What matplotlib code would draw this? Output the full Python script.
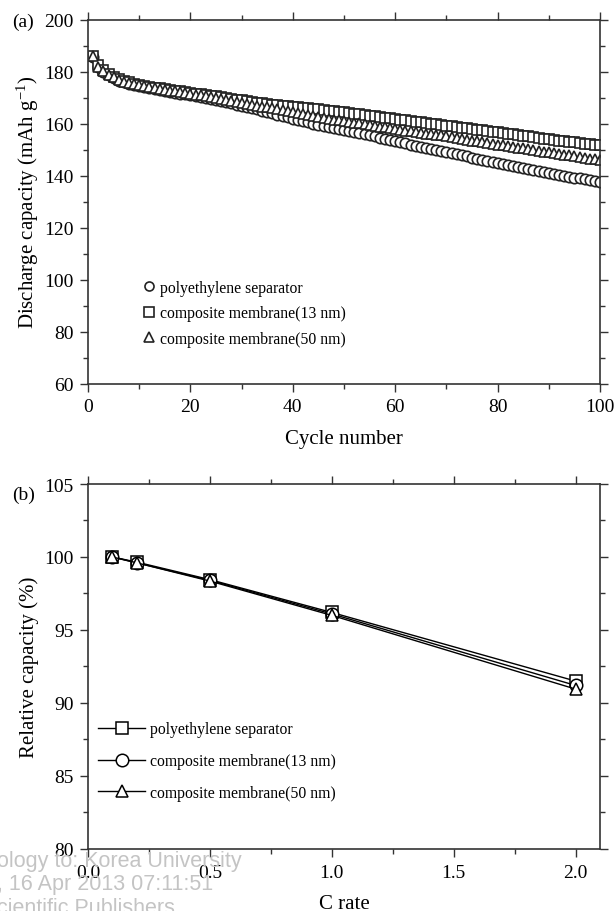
import numpy as np
from matplotlib import pyplot as plt
import matplotlib as mpl
from matplotlib.ticker import MultipleLocator

mpl.rc('font', family='Liberation Serif', size=14)
mpl.rcParams['mathtext.fontset'] = 'custom'
mpl.rcParams['mathtext.rm'] = 'Liberation Serif'
mpl.rcParams['mathtext.it'] = 'Liberation Serif:italic'

# -------------------------
# (a) discharge capacity vs cycle number
# -------------------------
cycles = list(range(1, 101))

pe_separator = [
    185.5, 182.0, 180.0, 178.6, 177.5, 176.6, 175.9, 175.3, 174.9, 174.5,
    174.1, 173.7, 173.3, 172.9, 172.5, 172.2, 171.9, 171.6, 171.3, 171.0,
    170.6, 170.2, 169.8, 169.4, 169.0, 168.6, 168.2, 167.8, 167.4, 167.0,
    166.5, 166.0, 165.5, 165.0, 164.5, 164.0, 163.5, 163.0, 162.5, 162.0,
    161.5, 161.0, 160.5, 160.0, 159.5, 159.1, 158.7, 158.3, 157.9, 157.5,
    157.1, 156.7, 156.3, 155.9, 155.5, 155.1, 154.7, 154.3, 153.9, 153.5,
    153.0, 152.5, 152.0, 151.5, 151.0, 150.7, 150.3, 150.0, 149.6, 149.3,
    148.8, 148.4, 147.9, 147.5, 147.0, 146.6, 146.2, 145.8, 145.4, 145.0,
    144.6, 144.2, 143.8, 143.4, 143.0, 142.6, 142.2, 141.8, 141.4, 141.0,
    140.7, 140.3, 140.0, 139.6, 139.3, 139.0, 138.7, 138.3, 138.0, 137.7]

membrane_13nm = [
    186.0, 182.4, 180.6, 179.2, 178.1, 177.2, 176.5, 175.9, 175.4, 175.0,
    174.6, 174.3, 173.9, 173.6, 173.3, 173.0, 172.7, 172.5, 172.2, 171.9,
    171.6, 171.3, 171.0, 170.8, 170.5, 170.2, 169.9, 169.6, 169.3, 169.0,
    168.7, 168.4, 168.1, 167.9, 167.6, 167.4, 167.2, 166.9, 166.7, 166.5,
    166.3, 166.1, 165.9, 165.7, 165.5, 165.2, 165.0, 164.8, 164.6, 164.4,
    164.1, 163.9, 163.6, 163.4, 163.1, 162.9, 162.6, 162.3, 162.1, 161.8,
    161.6, 161.3, 161.1, 160.8, 160.5, 160.3, 160.0, 159.8, 159.5, 159.3,
    159.0, 158.8, 158.5, 158.3, 158.0, 157.7, 157.5, 157.2, 157.0, 156.7,
    156.4, 156.2, 155.9, 155.6, 155.3, 155.1, 154.8, 154.5, 154.3, 154.0,
    153.8, 153.5, 153.3, 153.0, 152.8, 152.6, 152.4, 152.1, 151.9, 151.7]

membrane_50nm = [
    186.0, 182.0, 180.1, 178.9, 177.8, 176.9, 176.2, 175.6, 175.2, 174.8,
    174.4, 174.1, 173.7, 173.4, 173.0, 172.7, 172.4, 172.1, 171.8, 171.5,
    171.2, 170.9, 170.6, 170.3, 170.0, 169.6, 169.2, 168.8, 168.4, 168.0,
    167.7, 167.3, 167.0, 166.6, 166.3, 165.9, 165.6, 165.2, 164.9, 164.5,
    164.1, 163.7, 163.3, 162.9, 162.5, 162.2, 161.9, 161.6, 161.3, 161.0,
    160.7, 160.4, 160.1, 159.8, 159.5, 159.2, 158.9, 158.6, 158.3, 158.0,
    157.7, 157.4, 157.1, 156.8, 156.5, 156.2, 156.0, 155.7, 155.5, 155.3,
    154.9, 154.6, 154.2, 153.9, 153.5, 153.2, 152.9, 152.6, 152.3, 152.0,
    151.7, 151.4, 151.1, 150.8, 150.5, 150.2, 149.9, 149.6, 149.3, 149.0,
    148.7, 148.4, 148.1, 147.8, 147.5, 147.2, 146.9, 146.6, 146.3, 146.0]

# -------------------------
# (b) relative capacity vs C rate
# -------------------------
c_rate = [0.1, 0.2, 0.5, 1.0, 2.0]
rel_pe = [100.0, 99.65, 98.45, 96.2, 91.5]
rel_13nm = [100.0, 99.6, 98.4, 96.1, 91.2]
rel_50nm = [100.0, 99.6, 98.35, 96.0, 90.95]

labels_a = ['polyethylene separator', 'composite membrane(13 nm)',
            'composite membrane(50 nm)']
labels_b = ['polyethylene separator', 'composite membrane(13 nm)',
            'composite membrane(50 nm)']

spine_col = '#333333'


def style_axes(ax):
    for s in ax.spines.values():
        s.set_color(spine_col)
        s.set_linewidth(1.2)
    ax.tick_params(which='both', direction='out', top=True, right=True,
                   color=spine_col, width=1.0)
    ax.tick_params(which='major', length=5.5)
    ax.tick_params(which='minor', length=3.5)
    ax.tick_params(labeltop=False, labelright=False, pad=5)


fig = plt.figure(figsize=(6.16, 9.12), dpi=100)

ax1 = fig.add_axes([0.1429, 0.578, 0.8312, 0.3993])
mk = dict(linestyle='none', mfc='white', mec='#222222', mew=1.2, ms=7.5)
ax1.plot(cycles, pe_separator, marker='o', label=labels_a[0], **mk)
ax1.plot(cycles, membrane_13nm, marker='s', label=labels_a[1], **mk)
ax1.plot(cycles, membrane_50nm, marker='^', label=labels_a[2], **mk)
ax1.set_xlim(0, 100)
ax1.set_ylim(60, 200)
ax1.xaxis.set_major_locator(MultipleLocator(20))
ax1.xaxis.set_minor_locator(MultipleLocator(10))
ax1.yaxis.set_major_locator(MultipleLocator(20))
ax1.yaxis.set_minor_locator(MultipleLocator(10))
style_axes(ax1)
ax1.set_xlabel('Cycle number', fontsize=15, labelpad=10)
ax1.set_ylabel(r'Discharge capacity (mAh g$^{\mathrm{-1}}$)', fontsize=15,
               labelpad=2)
leg = ax1.legend(loc='lower left', bbox_to_anchor=(0.097, 0.085), frameon=False,
                 fontsize=11.3, handlelength=0.6, handletextpad=0.4,
                 labelspacing=0.6, borderaxespad=0)
for h in leg.legend_handles:
    h.set_markersize(6.5)
fig.text(0.02, 0.976, '(a)', fontsize=14, va='center')

ax2 = fig.add_axes([0.1429, 0.068, 0.8312, 0.4002])
lk = dict(color='black', lw=1.0, mfc='white', mec='black', mew=1.1, ms=9)
ax2.plot(c_rate, rel_pe, marker='s', label=labels_b[0], **lk)
ax2.plot(c_rate, rel_13nm, marker='o', label=labels_b[1], **lk)
ax2.plot(c_rate, rel_50nm, marker='^', label=labels_b[2], **lk)
ax2.set_xlim(0, 2.1)
ax2.set_ylim(80, 105)
ax2.xaxis.set_major_locator(MultipleLocator(0.5))
ax2.xaxis.set_minor_locator(MultipleLocator(0.25))
ax2.yaxis.set_major_locator(MultipleLocator(5))
ax2.yaxis.set_minor_locator(MultipleLocator(2.5))
ax2.xaxis.set_major_formatter(mpl.ticker.FormatStrFormatter('%.1f'))
style_axes(ax2)
ax2.set_xlabel('C rate', fontsize=15, labelpad=10)
ax2.set_ylabel('Relative capacity (%)', fontsize=15, labelpad=4)
ax2.legend(loc='lower left', bbox_to_anchor=(0.008, 0.115), frameon=False,
           fontsize=11.3, handlelength=3.0, handletextpad=0.3,
           labelspacing=1.0, borderaxespad=0)
fig.text(0.02, 0.457, '(b)', fontsize=14, va='center')

# download watermark visible in the scan
wm = dict(family='Liberation Sans', fontsize=15.5, color='#c4c4c4', va='center')
fig.text(-0.005, 0.055, 'ology to: Korea University', **wm)
fig.text(-0.005, 0.030, ', 16 Apr 2013 07:11:51', **wm)
fig.text(-0.005, 0.004, 'cientific Publishers', **wm)

fig.savefig('out.png', dpi=100)
